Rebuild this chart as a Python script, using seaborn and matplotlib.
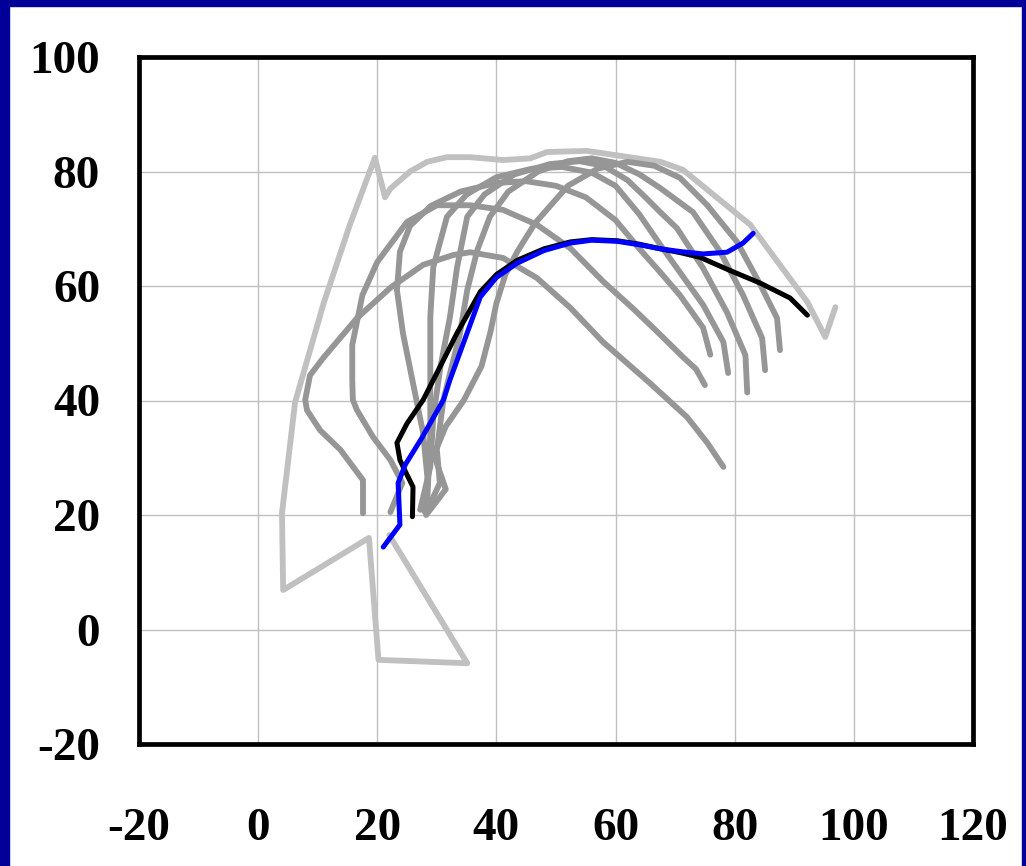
import numpy as np
import pandas as pd
import seaborn as sns
from matplotlib import pyplot as plt
from matplotlib.patches import Rectangle

# gray family of arcs
a_x = [17.6, 17.6, 13.8, 10.4, 8.2, 7.9, 8.7, 10.9, 16.6, 22.2, 27.7, 32.7, 35.6, 41.1, 46.8, 52.4, 57.9, 65.8, 72.0, 75.4, 78.1]
a_y = [20.3, 26.1, 31.4, 34.8, 38.3, 40.1, 44.4, 47.4, 54.4, 59.7, 63.7, 65.4, 65.9, 64.9, 61.4, 56.2, 50.2, 43.0, 37.1, 32.6, 28.4]

b_x = [22.2, 24.2, 22.2, 19.3, 16.6, 15.9, 15.8, 15.8, 17.5, 20.0, 25.0, 30.0, 35.6, 41.1, 46.8, 52.4, 57.9, 63.0, 67.5, 71.3, 73.5, 75.0]
b_y = [20.5, 25.6, 29.6, 33.6, 38.3, 40.1, 43.6, 49.7, 58.4, 64.2, 71.2, 74.1, 74.1, 73.3, 70.7, 66.6, 60.8, 56.0, 51.5, 47.6, 45.5, 42.7]

c_x = [27.7, 28.5, 27.7, 26.0, 24.3, 23.3, 23.8, 25.5, 29.0, 34.0, 40.0, 45.0, 50.0, 55.0, 60.0, 64.0, 67.5, 70.8, 74.7, 75.9]
c_y = [20.9, 25.6, 34.3, 43.0, 51.8, 59.3, 66.0, 70.5, 74.0, 76.5, 78.0, 78.3, 77.5, 75.5, 71.5, 66.5, 62.4, 58.4, 52.7, 48.0]

d_x = [28.0, 28.4, 28.9, 28.9, 28.9, 29.4, 31.7, 35.0, 40.0, 46.0, 51.0, 56.0, 60.0, 64.0, 67.5, 70.8, 74.7, 78.1, 78.9]
d_y = [20.5, 22.6, 34.3, 43.0, 54.6, 63.3, 72.1, 76.0, 79.0, 80.5, 80.8, 79.8, 77.5, 72.5, 67.2, 62.4, 56.7, 50.2, 44.8]

e_x = [27.2, 28.9, 29.4, 30.6, 32.2, 33.4, 35.1, 38.0, 43.0, 49.0, 54.0, 58.0, 62.0, 65.0, 67.5, 70.3, 74.7, 78.7, 81.8, 82.1]
e_y = [20.9, 28.4, 37.1, 45.9, 54.6, 63.3, 72.1, 76.0, 79.5, 81.3, 81.8, 81.0, 78.5, 75.5, 72.9, 70.1, 63.1, 55.4, 47.9, 41.4]

f_x = [28.4, 30.5, 30.0, 31.1, 33.9, 35.1, 36.8, 38.9, 42.0, 47.0, 52.0, 56.0, 60.0, 64.0, 67.5, 73.0, 77.6, 81.4, 84.6, 85.1]
f_y = [20.9, 25.6, 31.4, 40.1, 51.8, 59.3, 66.3, 72.1, 76.5, 80.0, 81.8, 82.3, 81.5, 79.5, 77.1, 72.9, 65.9, 58.4, 50.9, 45.3]

g_x = [28.2, 31.5, 30.5, 29.5, 31.5, 34.5, 37.5, 39.0, 40.0, 41.5, 43.5, 46.5, 52.0, 57.0, 62.0, 66.5, 70.8, 75.4, 80.4, 84.3, 87.1, 87.6]
g_y = [20.0, 24.5, 27.5, 30.5, 35.5, 40.0, 46.0, 52.0, 57.0, 62.0, 66.0, 71.0, 77.5, 80.5, 81.7, 81.0, 78.9, 74.1, 67.7, 60.2, 54.4, 48.8]

# light gray trace
lg_x = [22.0, 35.1, 20.2, 18.6, 4.2, 4.0, 6.2, 11.0, 15.4, 19.6, 21.3, 22.2, 25.5, 28.4, 31.7, 35.6, 41.1, 45.7, 48.5, 55.2, 67.5, 71.3, 82.6, 92.2, 95.2, 96.9]
lg_y = [16.5, -5.9, -5.3, 16.0, 6.9, 20.3, 39.7, 57.0, 70.7, 82.4, 75.5, 77.0, 80.0, 81.7, 82.5, 82.5, 82.0, 82.3, 83.4, 83.6, 81.7, 80.3, 70.7, 57.2, 51.1, 56.3]

# black trace
k_x = [25.9, 26.0, 25.0, 23.8, 23.3, 25.0, 27.7, 30.0, 33.4, 37.3, 40.0, 43.5, 48.0, 52.4, 56.0, 60.3, 64.0, 67.5, 71.0, 74.2, 79.0, 84.3, 89.3, 92.2]
k_y = [19.7, 24.9, 27.0, 29.6, 32.6, 36.0, 40.1, 44.8, 51.8, 59.0, 62.0, 64.5, 66.5, 67.7, 68.1, 67.9, 67.3, 66.5, 65.8, 65.0, 62.8, 60.5, 57.9, 54.9]

# blue trace
bl_x = [21.0, 23.8, 23.5, 24.7, 27.5, 31.1, 32.2, 34.2, 37.3, 40.0, 43.5, 48.0, 52.4, 56.0, 60.3, 64.0, 67.5, 71.0, 74.7, 78.7, 81.4, 83.1]
bl_y = [14.4, 18.3, 25.6, 28.8, 33.5, 40.1, 43.6, 49.3, 58.1, 61.5, 64.0, 66.2, 67.5, 68.0, 67.8, 67.2, 66.5, 66.0, 65.6, 65.9, 67.5, 69.2]

gray_curves = [(a_x, a_y), (b_x, b_y), (c_x, c_y), (d_x, d_y), (e_x, e_y), (f_x, f_y), (g_x, g_y)]

sns.set_style("white")
plt.rcParams['font.family'] = ['Liberation Serif', 'DejaVu Serif']
plt.rcParams['axes.unicode_minus'] = False

fig = plt.figure(figsize=(10.26, 8.66), dpi=100)
ax = fig.add_axes([139 / 1026, 1 - 744 / 866, (973 - 139) / 1026, (744 - 57) / 866])

ax.grid(True, color='#c0c0c0', lw=1)
ax.set_axisbelow(True)

sns.lineplot(x=lg_x, y=lg_y, sort=False, estimator=None, color='#c0c0c0', linewidth=4.2, ax=ax)
for cx, cy in gray_curves:
    sns.lineplot(x=cx, y=cy, sort=False, estimator=None, color='#969696', linewidth=4.2, ax=ax)
sns.lineplot(x=k_x, y=k_y, sort=False, estimator=None, color='black', linewidth=3.6, ax=ax)
sns.lineplot(x=bl_x, y=bl_y, sort=False, estimator=None, color='#0000ff', linewidth=3.6, ax=ax)

ax.set_xlim(-20, 120)
ax.set_ylim(-20, 100)
ax.set_xticks(range(-20, 121, 20))
ax.set_yticks(range(-20, 101, 20))
for s in ax.spines.values():
    s.set_color('black')
    s.set_linewidth(3.4)
ax.tick_params(axis='both', direction='out', length=6, width=1, color='#808080',
               labelsize=34, labelcolor='black')
ax.tick_params(axis='x', pad=40)
ax.tick_params(axis='y', pad=22)
for lab in ax.get_xticklabels() + ax.get_yticklabels():
    lab.set_fontweight('bold')

# navy frame round the slide
fig.add_artist(Rectangle((0, 0), 9 / 1026, 1, transform=fig.transFigure, color='#000099'))
fig.add_artist(Rectangle((0, 1 - 6 / 866), 1, 6 / 866, transform=fig.transFigure, color='#000099'))
fig.add_artist(Rectangle((1 - 4 / 1026, 0), 4 / 1026, 1, transform=fig.transFigure, color='#000099'))

fig.savefig('out.png', dpi=100)
